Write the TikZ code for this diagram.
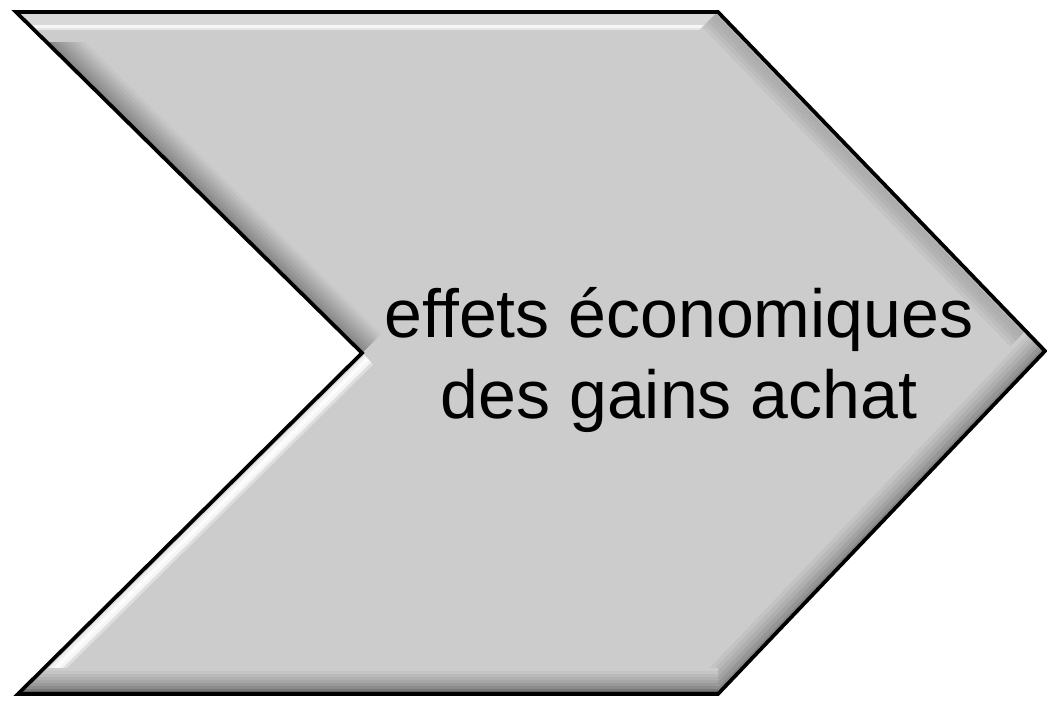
\documentclass[tikz,border=0pt]{standalone}
\usepackage{fontspec}
\setmainfont{Liberation Sans}
\usepackage{tikz}

% one bevelled side: depth/grey pairs, deepest first
\newcommand{\bevelside}[3]{%
  \foreach \dep/\lev in {#3}{
    \definecolor{bevgray}{RGB}{\lev,\lev,\lev}
    \draw[line width={1.5pt*\dep}, color=bevgray] (#1)--(#2);
  }}

\definecolor{facegray}{RGB}{204,204,204}

\begin{document}
\begin{tikzpicture}[x=0.75pt, y=-0.75pt,
  outline/.style={draw=black, line width=2.8pt, line join=miter}]
\useasboundingbox (0,0) rectangle (1047,703);
%%%%% Corners %%%%%
\coordinate (tl) at (16,12);
\coordinate (tr) at (718,12);
\coordinate (tip) at (1045,351);
\coordinate (br) at (718,694);
\coordinate (bl) at (18,694);
\coordinate (notch) at (362,353);
%%%%% Face and bevel %%%%%
\begin{scope}
\clip (tl)--(tr)--(tip)--(br)--(bl)--(notch)--cycle;
\fill[facegray] (0,0) rectangle (1047,703);
\bevelside{notch}{tl}{30/204,27/198,24/190,21/182,18/174,15/166,12/158,9/150,6/142,3/134}
\bevelside{bl}{notch}{20/204,16/222,13/245,10/252,6/240,3/212}
\bevelside{tl}{tr}{30/204,18/230,16/246,13/216}
\bevelside{tr}{tip}{26/204,22/196,18/188,14/180,10/175,6/172,3/185}
\bevelside{tip}{br}{28/204,24/195,20/185,16/175,12/163,8/150,4/135}
\bevelside{br}{bl}{26/204,23/196,20/186,17/176,14/166,11/154,8/140,5/120,3/95}
\end{scope}
\draw[outline] (tl)--(tr)--(tip)--(br)--(bl)--(notch)--cycle;
%%%%% Text %%%%%
\node[font=\fontsize{51}{61}\selectfont, align=center, inner sep=0pt] (label) at (679,360)
  {effets économiques\\des gains achat};
\end{tikzpicture}
\end{document}
